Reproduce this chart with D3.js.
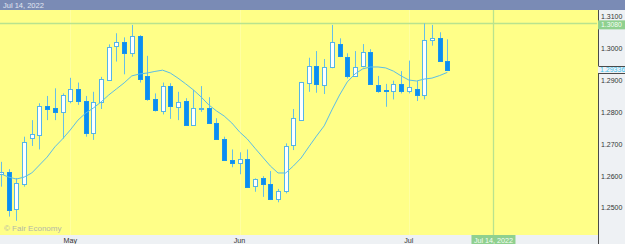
<!DOCTYPE html>
<html>
<head>
<meta charset="utf-8">
<script src="https://cdn.jsdelivr.net/npm/d3@7"></script>
<style>
  html, body { margin: 0; padding: 0; background: #fff; }
  svg { display: block; font-family: 'Liberation Sans', Arial, sans-serif; }
</style>
</head>
<body>
<svg id="chart" width="625" height="244"></svg>
<script>
// daily candles, index 0 = Apr 19 2022
const opens = [1.2607, 1.2614, 1.2494, 1.2577, 1.2717, 1.2731, 1.2821, 1.2813, 1.2802, 1.2836,
  1.2873, 1.2837, 1.2735, 1.2832, 1.2902, 1.3007, 1.3021, 1.2988, 1.3040, 1.2915,
  1.2842, 1.2806, 1.2884, 1.2818, 1.2837, 1.2763, 1.2811, 1.2813, 1.2766, 1.2717,
  1.2651, 1.2643, 1.2654, 1.2567, 1.2593, 1.2575, 1.2528, 1.2556, 1.2696, 1.2776,
  1.2895, 1.2947, 1.2889, 1.2944, 1.3014, 1.2975, 1.2915, 1.2944, 1.2989, 1.2886,
  1.2871, 1.2868, 1.2890, 1.2868, 1.2875, 1.2855, 1.3026, 1.3033, 1.2962]
const highs = [1.2645, 1.2622, 1.2594, 1.2724, 1.2776, 1.2829, 1.2852, 1.2876, 1.2860, 1.2909,
  1.2894, 1.2852, 1.2865, 1.2912, 1.3014, 1.3049, 1.3036, 1.3075, 1.3043, 1.2978,
  1.2860, 1.2894, 1.2892, 1.2865, 1.2845, 1.2871, 1.2883, 1.2848, 1.2782, 1.2724,
  1.2684, 1.2675, 1.2684, 1.2593, 1.2600, 1.2616, 1.2560, 1.2703, 1.2811, 1.2896,
  1.2972, 1.2993, 1.2968, 1.3075, 1.3033, 1.2986, 1.2993, 1.3015, 1.2999, 1.2915,
  1.2890, 1.2900, 1.2930, 1.2963, 1.2899, 1.3080, 1.3075, 1.3052, 1.3030]
const lows = [1.2567, 1.2473, 1.2460, 1.2567, 1.2695, 1.2684, 1.2776, 1.2776, 1.2718, 1.2829,
  1.2824, 1.2724, 1.2714, 1.2811, 1.2900, 1.2960, 1.2920, 1.2975, 1.2894, 1.2837,
  1.2803, 1.2794, 1.2780, 1.2776, 1.2762, 1.2762, 1.2802, 1.2765, 1.2716, 1.2649,
  1.2628, 1.2606, 1.2564, 1.2551, 1.2535, 1.2525, 1.2518, 1.2546, 1.2682, 1.2774,
  1.2865, 1.2862, 1.2858, 1.2939, 1.2974, 1.2907, 1.2912, 1.2942, 1.2889, 1.2862,
  1.2818, 1.2841, 1.2860, 1.2860, 1.2836, 1.2841, 1.3010, 1.2962, 1.29336]
const closes = [1.2614, 1.2494, 1.2577, 1.2708, 1.2731, 1.2821, 1.2813, 1.2802, 1.2854, 1.2873,
  1.2836, 1.2735, 1.2832, 1.2904, 1.3007, 1.3021, 1.2988, 1.3040, 1.2904, 1.2842,
  1.2806, 1.2884, 1.2820, 1.2834, 1.2763, 1.2815, 1.2815, 1.2766, 1.2717, 1.2651,
  1.2642, 1.2654, 1.2567, 1.2590, 1.2575, 1.2528, 1.2554, 1.2696, 1.2782, 1.2895,
  1.2947, 1.2890, 1.2944, 1.3022, 1.2975, 1.2915, 1.2944, 1.2989, 1.2890, 1.2868,
  1.2868, 1.2890, 1.2868, 1.2879, 1.2855, 1.3028, 1.3033, 1.2962, 1.29336]
// moving average
const maValues = [1.2607, 1.2597, 1.2591, 1.2597, 1.2610, 1.2635, 1.2660, 1.2692, 1.2717, 1.2745,
  1.2776, 1.2798, 1.2814, 1.2833, 1.2855, 1.2874, 1.2893, 1.2915, 1.2921, 1.2924,
  1.2929, 1.2933, 1.2924, 1.2908, 1.2890, 1.2871, 1.2849, 1.2824, 1.2805, 1.2789,
  1.2767, 1.2739, 1.2717, 1.2688, 1.2660, 1.2632, 1.2610, 1.2610, 1.2632, 1.2657,
  1.2692, 1.2726, 1.2758, 1.2808, 1.2855, 1.2896, 1.2921, 1.2937, 1.2943, 1.2943,
  1.2940, 1.2930, 1.2915, 1.2902, 1.2899, 1.2905, 1.2908, 1.2916, 1.2926]

const monthLabels = ['May', 'Jun', 'Jul']
const monthIndex = [9, 31, 53]
const priceTicks = [1.25, 1.26, 1.27, 1.28, 1.29, 1.30, 1.31]
const crossLabel = 'Jul 14, 2022'
const crossIndex = 64
const crossPrice = 1.3080
const lastPrice = 1.29336

const W = 625, H = 244
const topH = 10, plotRight = 597, plotBottom = 235

const svg = d3.select('#chart')

const x = d3.scaleLinear().domain([0, 58]).range([1, 447.3])
const y = d3.scaleLinear().domain([1.25, 1.31]).range([208, 17])
const px = (v) => Math.round(x(v)) + 0.5
const py = (v) => Math.round(y(v)) + 0.5

// plot background
svg.append('rect').attr('x', 0).attr('y', 0).attr('width', W).attr('height', H).attr('fill', '#eef1f4')
svg.append('rect').attr('x', 0).attr('y', topH).attr('width', plotRight + 1).attr('height', plotBottom - topH)
  .attr('fill', '#ffff88')

// faint month grid
svg.append('g').selectAll('line').data(monthIndex).join('line')
  .attr('x1', (d) => px(d)).attr('x2', (d) => px(d))
  .attr('y1', topH).attr('y2', plotBottom)
  .attr('stroke', '#ffffff').attr('stroke-opacity', 0.22)

// crosshair
svg.append('line')
  .attr('x1', 0).attr('x2', plotRight)
  .attr('y1', py(crossPrice)).attr('y2', py(crossPrice))
  .attr('stroke', '#b9e38e').attr('stroke-width', 1.3)
svg.append('line')
  .attr('x1', px(crossIndex)).attr('x2', px(crossIndex))
  .attr('y1', topH).attr('y2', plotBottom)
  .attr('stroke', '#b9e38e').attr('stroke-width', 1.3)

// watermark
svg.append('text').attr('x', 4).attr('y', 231)
  .attr('font-size', 8).attr('fill', '#b3b9a6')
  .text('© Fair Economy')

// candles
const candles = opens.map((o, i) => ({i, o, h: highs[i], l: lows[i], c: closes[i], up: closes[i] >= o}))

const g = svg.append('g')
g.selectAll('line.wick').data(candles).join('line')
  .attr('class', 'wick')
  .attr('x1', (d) => px(d.i)).attr('x2', (d) => px(d.i))
  .attr('y1', (d) => y(d.h)).attr('y2', (d) => y(d.l))
  .attr('stroke', '#66bfe8').attr('stroke-width', 1)

g.selectAll('rect.body').data(candles).join('rect')
  .attr('class', 'body')
  .attr('x', (d) => px(d.i) - 2)
  .attr('width', 4)
  .attr('y', (d) => Math.round(y(Math.max(d.o, d.c))) + 0.5)
  .attr('height', (d) => Math.max(1, Math.round(Math.abs(y(d.o) - y(d.c)))))
  .attr('fill', (d) => (d.up ? '#ffffff' : '#0a8ef2'))
  .attr('stroke', (d) => (d.up ? '#55b5e8' : '#1a95ec'))
  .attr('stroke-width', 1)

// moving average
svg.append('path')
  .datum(maValues)
  .attr('fill', 'none')
  .attr('stroke', '#5bbde6')
  .attr('stroke-width', 1)
  .attr('d', d3.line().x((d, i) => x(i)).y((d) => y(d)))

// top bar
svg.append('rect').attr('x', 0).attr('y', 0).attr('width', W).attr('height', topH).attr('fill', '#7a8bb5')
svg.append('text').attr('x', 3).attr('y', 8)
  .attr('font-size', 7.5).attr('fill', '#e2e6f1')
  .text(crossLabel)

// right axis
const axisX = plotRight + 1.5
const lastY = y(lastPrice)
svg.append('line').attr('x1', axisX).attr('x2', axisX).attr('y1', topH).attr('y2', lastY - 4)
  .attr('stroke', '#4a4a4a')
svg.append('line').attr('x1', axisX).attr('x2', W).attr('y1', Math.round(lastY - 4) + 0.5).attr('y2', Math.round(lastY - 4) + 0.5)
  .attr('stroke', '#4a4a4a')
svg.append('line').attr('x1', axisX).attr('x2', W).attr('y1', Math.round(lastY + 3) + 0.5).attr('y2', Math.round(lastY + 3) + 0.5)
  .attr('stroke', '#4a4a4a')
svg.append('line').attr('x1', axisX).attr('x2', axisX).attr('y1', lastY + 3).attr('y2', H)
  .attr('stroke', '#4a4a4a')

svg.append('g').selectAll('text').data(priceTicks).join('text')
  .attr('x', 601).attr('y', (d) => y(d) - (d === 1.31 ? 0.8 : 0))
  .attr('dy', '0.35em')
  .attr('font-size', 7).attr('fill', '#333')
  .text((d) => d3.format('.4f')(d))

// crosshair price label
svg.append('rect').attr('x', plotRight + 1).attr('y', y(crossPrice) - 3).attr('width', W - plotRight).attr('height', 9)
  .attr('fill', '#8fd08f')
svg.append('text').attr('x', 601).attr('y', y(crossPrice) + 1.6).attr('dy', '0.35em')
  .attr('font-size', 6.8).attr('fill', '#f4fff4')
  .text(d3.format('.4f')(crossPrice))

// last price label
svg.append('text').attr('x', 600).attr('y', lastY).attr('dy', '0.35em')
  .attr('font-size', 7).attr('fill', '#3cc3f0')
  .text(d3.format('.5f')(lastPrice))

// bottom axis
svg.append('g').selectAll('text').data(monthIndex).join('text')
  .attr('x', (d) => x(d)).attr('y', 243)
  .attr('text-anchor', 'middle')
  .attr('font-size', 7.2).attr('fill', '#333')
  .text((d, i) => monthLabels[i])

svg.append('rect').attr('x', x(crossIndex) - 22).attr('y', plotBottom).attr('width', 44).attr('height', H - plotBottom)
  .attr('fill', '#8fd08f')
svg.append('text').attr('x', x(crossIndex)).attr('y', 243)
  .attr('text-anchor', 'middle')
  .attr('font-size', 7.2).attr('fill', '#f4fff4')
  .text(crossLabel)
</script>
</body>
</html>
